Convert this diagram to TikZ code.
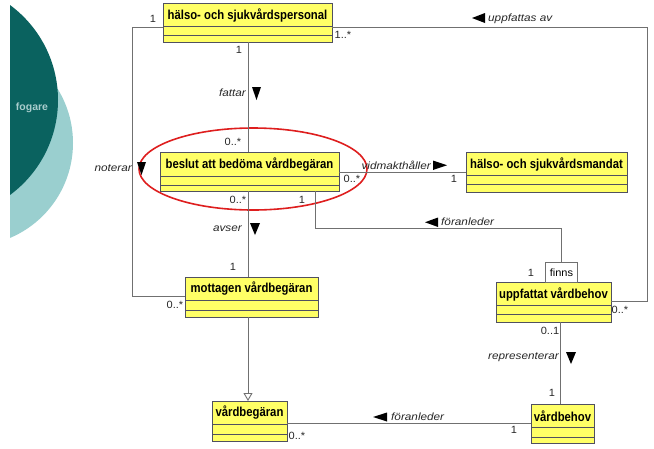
\documentclass[tikz,border=0pt]{standalone}
\usepackage{fontspec}
\setmainfont{Liberation Sans}
\newfontfamily\clsfont[FakeStretch=0.87]{Liberation Sans}
\newfontfamily\labfont[FakeStretch=1.12]{Liberation Sans}
\newfontfamily\multfont[FakeStretch=1.05]{Liberation Sans}
\usetikzlibrary{arrows.meta,calc}
\definecolor{clsfill}{RGB}{255,255,102}
\definecolor{clsline}{RGB}{80,80,96}
\definecolor{conline}{RGB}{112,112,112}
\definecolor{darkteal}{RGB}{10,98,95}
\definecolor{lightteal}{RGB}{154,207,207}
\definecolor{fogcol}{RGB}{170,205,205}
\definecolor{ringred}{RGB}{222,30,30}
\tikzset{
  clsbox/.style={draw=clsline, fill=clsfill, line width=0.9pt, inner sep=0pt, outer sep=0pt},
  clsborder/.style={draw=clsline, line width=0.9pt},
  clsname/.style={font=\clsfont\fontsize{13}{14}\selectfont\bfseries, inner sep=0pt},
  assoc/.style={draw=conline, line width=0.9pt},
  lab/.style={font=\labfont\fontsize{10.5}{12}\selectfont\itshape, inner sep=0pt, text=black!85},
  mult/.style={font=\multfont\fontsize{10.5}{12}\selectfont, inner sep=0pt, text=black!85},
  tri/.style={fill=black}
}
\newcommand{\umlclass}[8]{%
  \node[clsbox, anchor=north west, minimum width={(#4-#2)*1pt}, minimum height={(#5-#3)*1pt}] (#1) at (#2,#3) {};
  \draw[clsborder] (#2,#6) -- (#4,#6) (#2,#7) -- (#4,#7);
  \node[clsname] at ({(#2+#4)/2},{(#3+#6)/2+0.5}) {#8};
}
\begin{document}
\begin{tikzpicture}[x=1pt,y=-1pt]
\useasboundingbox (0,0) rectangle (654,448);
% background decoration
\begin{scope}
  \clip (10,0) rectangle (200,448);
  \fill[lightteal] (-30,143) circle (103pt);
  \fill[darkteal] (-60,100) circle (118pt);
\end{scope}
\node[font=\fontsize{10.5}{12}\selectfont\bfseries, text=fogcol, inner sep=0pt] (fog) at (32,108) {fogare};

% classes
\umlclass{hp}{163}{3}{332}{42}{26}{35}{hälso- och sjukvårdspersonal}
\umlclass{bd}{160}{152}{339}{191}{176}{185}{beslut att bedöma vårdbegäran}
\umlclass{hm}{466}{152}{627}{192}{175}{184}{hälso- och sjukvårdsmandat}
\umlclass{mv}{185}{277}{318}{317}{300}{310}{mottagen vårdbegäran}
\umlclass{uv}{496}{282}{611}{322}{305}{314}{uppfattat vårdbehov}
\umlclass{vb}{212}{401}{287}{441}{424}{434}{vårdbegäran}
\umlclass{vh}{531}{404}{594}{443}{427}{437}{vårdbehov}
\node[draw=conline, fill=white, line width=0.9pt, anchor=north west, minimum width=32pt, minimum height=20pt, inner sep=0pt, font=\multfont\fontsize{10.5}{12}\selectfont] (fi) at (545,262) {finns};

% red ring
\draw[ringred, line width=1.6pt] (253,169) ellipse [x radius=114pt, y radius=41pt];

% connector coordinates
\coordinate (a1) at (132,27);
\coordinate (a2) at (132,296);
\coordinate (c1) at (647,27);
\coordinate (c2) at (647,301);
\coordinate (d1) at (400,172);
\coordinate (e1) at (315,228);
\coordinate (e2) at (561,228);
\coordinate (f1) at (248,250);
\coordinate (h1) at (400,423);
\coordinate (i1) at (560,360);

% connectors
\draw[assoc] (hp.west |- a1) -- (a1) -- (a2) -- (mv.west |- a2);
\draw[assoc] (hp.south -| f1) -- (bd.north -| f1);
\draw[assoc] (hp.east |- c1) -- (c1) -- (c2) -- (uv.east |- c2);
\draw[assoc] (bd.east |- d1) -- (hm.west |- d1);
\draw[assoc] (bd.south -| e1) -- (e1) -- (e2) -- (fi.north -| e2);
\draw[assoc] (bd.south -| f1) -- (mv.north -| f1);
\draw[assoc, -{Triangle[open, length=8pt, width=9pt, fill=white]}] (mv.south -| f1) -- (vb.north -| f1);
\draw[assoc] (vb.east |- h1) -- (vh.west |- h1);
\draw[assoc] (uv.south -| i1) -- (vh.north -| i1);

% multiplicities
\node[mult] (m1) at (153,19) {1};
\node[mult] (m2) at (343,35) {1..*};
\node[mult] (m3) at (239,50) {1};
\node[mult] (m4) at (233,142) {0..*};
\node[mult] (m5) at (352,179) {0..*};
\node[mult] (m6) at (454,179) {1};
\node[mult] (m7) at (238,200) {0..*};
\node[mult] (m8) at (302,200) {1};
\node[mult] (m9) at (233,267) {1};
\node[mult] (m10) at (175,305) {0..*};
\node[mult] (m11) at (531,273) {1};
\node[mult] (m12) at (620,310) {0..*};
\node[mult] (m13) at (550,331) {0..1};
\node[mult] (m14) at (552,393) {1};
\node[mult] (m15) at (297,436) {0..*};
\node[mult] (m16) at (514,430) {1};

% association labels
\node[lab, anchor=east] (l1) at (246,93) {fattar};
\fill[tri] (252,87) -- (261,87) -- (256.5,100) -- cycle;
\node[lab, anchor=east] (l2) at (132,168) {noterar};
\fill[tri] (137,162) -- (146,162) -- (141.5,175) -- cycle;
\node[lab, anchor=west] (l3) at (488,19) {uppfattas av};
\fill[tri] (485,13) -- (485,23) -- (472,18) -- cycle;
\node[lab, anchor=east] (l4) at (431,165) {vidmakthåller};
\fill[tri] (433,160.5) -- (433,170) -- (447,165.25) -- cycle;
\node[lab, anchor=west] (l5) at (441,222) {föranleder};
\fill[tri] (438,217.5) -- (438,227) -- (425,222.25) -- cycle;
\node[lab, anchor=east] (l6) at (242,229) {avser};
\fill[tri] (250,223) -- (260,223) -- (255,235) -- cycle;
\node[lab, anchor=east] (l7) at (559,357) {representerar};
\fill[tri] (566,352) -- (576,352) -- (571,364) -- cycle;
\node[lab, anchor=west] (l8) at (391,417) {föranleder};
\fill[tri] (387,412.5) -- (387,421.5) -- (373,417) -- cycle;
\end{tikzpicture}
\end{document}
